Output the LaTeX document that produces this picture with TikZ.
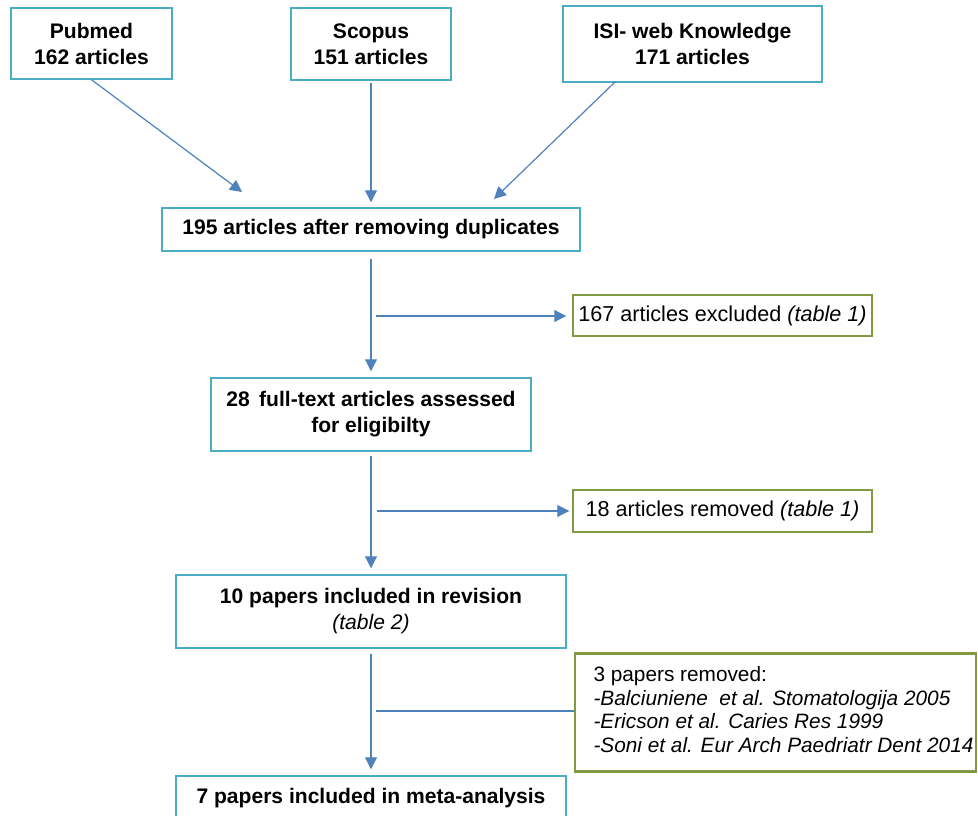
\documentclass[tikz,border=0pt]{standalone}
\usepackage{fontspec}
\setmainfont{Liberation Sans}
\usetikzlibrary{arrows.meta}
\definecolor{boxblue}{HTML}{4BACC6}
\definecolor{boxgreen}{HTML}{7F9A42}
\definecolor{arrblue}{HTML}{4F81BD}
\begin{document}
\begin{tikzpicture}[x=0.75pt,y=-0.75pt,
  bsize/.style n args={2}{minimum width=#1*0.75pt, minimum height=#2*0.75pt},
  bluebox/.style={draw=boxblue, line width=1.1pt, inner sep=0pt, align=center,
     font=\fontsize{15.8}{19.5}\selectfont\bfseries},
  greenbox/.style={draw=boxgreen, line width=1.1pt, inner sep=0pt, align=center,
     font=\fontsize{16.2}{18}\selectfont},
  arr/.style={draw=arrblue, line width=0.9pt, -{Triangle[length=9pt,width=9pt]}},
  ln/.style={draw=arrblue, line width=0.9pt}
]
\useasboundingbox (0,0) rectangle (978,816);
\begin{scope}
\clip (0,0) rectangle (978,816);
\node[bluebox, bsize={161}{71}] (pub) at (91.5,43.5) {Pubmed\\162 articles};
\node[bluebox, bsize={160}{72}] (sco) at (371,44) {Scopus\\151 articles};
\node[bluebox, bsize={259}{76}] (isi) at (692.5,44) {ISI- web Knowledge\\171 articles};
\node[bluebox, bsize={418}{43}] (dup) at (371,229.5) {195 articles after removing duplicates};
\node[greenbox, bsize={299}{41}] (exc1) at (722.5,315.5) {167 articles excluded \textit{(table 1)}};
\node[bluebox, bsize={320}{73}] (ft) at (371,414.5) {28\, full-text articles assessed\\for eligibilty};
\node[greenbox, bsize={299}{42}] (exc2) at (722.5,511) {18 articles removed \textit{(table 1)}};
\node[bluebox, bsize={390}{73}] (rev) at (371,611.5) {10 papers included in revision\\\mdseries\itshape(table 2)};
\node[greenbox, line width=1.6pt, bsize={401}{118}, align=left,
  font=\fontsize{15.6}{17.6}\selectfont] (exc3) at (775.5,712.5)
  {\renewcommand{\arraystretch}{1.0}\begin{tabular}{@{\hspace{12pt}}l@{}}
   3 papers removed:\\
   \textit{-Balciuniene\ \ et al. Stomatologija 2005}\\
   \textit{-Ericson et al. Caries Res 1999}\\
   \textit{-Soni et al. Eur Arch Paedriatr Dent 2014}
   \end{tabular}};
\node[bluebox, bsize={390}{44}] (meta) at (371,798) {7 papers included in meta-analysis};

\coordinate (p1) at (242,192);
\coordinate (i0) at (615,82);
\coordinate (i1) at (494,199);
\coordinate (s1) at (376,316);
\coordinate (s2) at (377,511);
\coordinate (s3) at (376,711);

\draw[arr] (pub.south) -- (p1);
\draw[arr, shorten >=5*0.75pt, shorten <=2*0.75pt] (sco.south) -- (sco.south |- dup.north);
\draw[arr] (i0) -- (i1);
\draw[arr, shorten <=7*0.75pt, shorten >=6*0.75pt] (dup.south) -- (dup.south |- ft.north);
\draw[arr, shorten >=6*0.75pt] (s1) -- (s1 -| exc1.west);
\draw[arr, shorten <=4*0.75pt, shorten >=6*0.75pt] (ft.south) -- (ft.south |- rev.north);
\draw[arr, shorten >=3*0.75pt] (s2) -- (s2 -| exc2.west);
\draw[arr, shorten <=5*0.75pt, shorten >=6*0.75pt] (rev.south) -- (rev.south |- meta.north);
\draw[ln] (s3) -- (s3 -| exc3.west);
\end{scope}
\end{tikzpicture}
\end{document}
